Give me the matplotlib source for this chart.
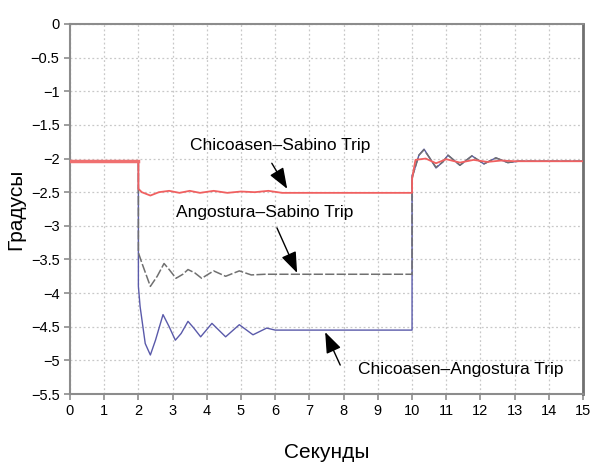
import matplotlib
matplotlib.use('Agg')
import numpy as np
import matplotlib.pyplot as plt

plt.rcParams['font.family'] = ['Liberation Sans', 'DejaVu Sans']

# Chicoasen-Sabino Trip (red)
t_red = [0, 2.0, 2.0, 2.1, 2.35, 2.6, 2.9, 3.2, 3.5, 3.8, 4.2, 4.6, 5.0, 5.4, 5.8, 6.2,
         10.0, 10.0, 10.1, 10.4, 10.7, 11.0, 11.4, 11.8, 12.2, 12.6, 13.0, 15.0]
v_red = [-2.04, -2.04, -2.45, -2.5, -2.55, -2.5, -2.48, -2.51, -2.48, -2.51, -2.48, -2.51,
         -2.49, -2.5, -2.48, -2.51, -2.51, -2.3, -2.02, -2.0, -2.07, -2.01, -2.06, -2.02,
         -2.05, -2.03, -2.04, -2.04]

# Angostura-Sabino Trip (gray)
t_gray = [0, 2.0, 2.0, 2.1, 2.35, 2.55, 2.75, 2.9, 3.1, 3.3, 3.45, 3.65, 3.85, 4.2, 4.55,
          4.95, 5.3, 5.7, 10.0, 10.0, 10.05, 10.2, 10.35, 10.5, 10.7, 10.9, 11.05, 11.4,
          11.75, 12.1, 12.45, 12.8, 13.1, 15.0]
v_gray = [-2.04, -2.04, -3.4, -3.55, -3.90, -3.75, -3.56, -3.65, -3.78, -3.72, -3.65, -3.70,
          -3.78, -3.67, -3.75, -3.67, -3.73, -3.72, -3.72, -2.3, -2.2, -1.95, -1.87, -1.98,
          -2.13, -2.05, -1.95, -2.10, -1.96, -2.08, -1.99, -2.06, -2.04, -2.04]

# Chicoasen-Angostura Trip (blue)
t_blue = [0, 2.0, 2.0, 2.05, 2.2, 2.35, 2.5, 2.72, 2.9, 3.08, 3.25, 3.45, 3.62, 3.82, 4.15,
          4.55, 4.95, 5.35, 5.75, 6.0, 10.0, 10.0, 10.05, 10.2, 10.35, 10.5, 10.7, 10.9,
          11.05, 11.4, 11.75, 12.1, 12.45, 12.8, 13.1, 15.0]
v_blue = [-2.04, -2.04, -3.9, -4.2, -4.75, -4.92, -4.7, -4.32, -4.5, -4.70, -4.6, -4.42,
          -4.52, -4.65, -4.45, -4.65, -4.47, -4.62, -4.52, -4.55, -4.55, -2.25, -2.2, -1.95,
          -1.86, -1.98, -2.14, -2.05, -1.95, -2.10, -1.96, -2.08, -1.99, -2.06, -2.04, -2.04]

fig = plt.figure(figsize=(5.95, 4.66), dpi=100)
ax = fig.add_axes([0.1176, 0.1545, 0.8624, 0.794])

ax.plot(t_blue, v_blue, color='#5a5aaa', lw=1.0, zorder=3)
ax.plot(t_gray, v_gray, color='#707070', lw=1.1, dashes=(6, 1.5), zorder=4)
ax.plot(t_red, v_red, color='#f06060', lw=1.3, zorder=5)
ax.plot(t_red[:2], v_red[:2], color='#f07070', lw=2.5, zorder=5)

ax.set_xlim(0, 15)
ax.set_ylim(-5.5, 0)
ax.set_xticks(range(0, 16))
yt = np.arange(0, -5.51, -0.5)
ax.set_yticks(yt)
ax.set_yticklabels(['0' if v == 0 else ('%g' % v).replace('-', '\u2212') for v in yt])
ax.grid(True, color='#c8c8c8', linestyle=(0, (1.5, 2)), lw=0.9)
for s in ax.spines.values():
    s.set_color('#8c8c8c')
    s.set_linewidth(1.5)
ax.spines['right'].set_color('#707070')
ax.spines['right'].set_linewidth(2)
ax.tick_params(colors='#8c8c8c', labelcolor='black', labelsize=10.5, length=4, width=1.2)

ax.set_xlabel('Секунды', fontsize=15, labelpad=18)
ax.set_ylabel('Градусы', fontsize=15, labelpad=4)

arrow = dict(arrowstyle='-|>,head_length=0.8,head_width=0.3', color='black', lw=1.0,
             mutation_scale=16, shrinkA=0, shrinkB=0)
ax.text(6.14, -1.8, 'Chicoasen\u2013Sabino Trip', fontsize=12.5, ha='center', va='center')
ax.annotate('', xy=(6.35, -2.45), xytext=(5.9, -2.07), arrowprops=arrow)
ax.text(5.7, -2.8, 'Angostura\u2013Sabino Trip', fontsize=12.5, ha='center', va='center')
ax.annotate('', xy=(6.64, -3.70), xytext=(6.05, -3.03), arrowprops=arrow)
ax.text(11.43, -5.14, 'Chicoasen\u2013Angostura Trip', fontsize=12.5, ha='center', va='center')
ax.annotate('', xy=(7.46, -4.58), xytext=(7.9, -5.07), arrowprops=arrow)

fig.savefig('out.png', dpi=100)
